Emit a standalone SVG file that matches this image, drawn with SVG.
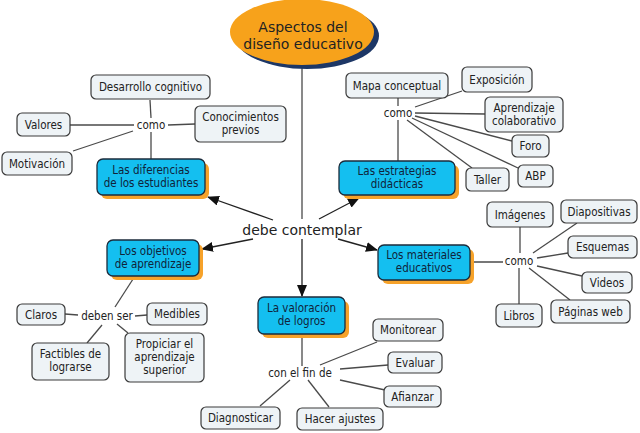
<svg xmlns="http://www.w3.org/2000/svg" width="640" height="433" viewBox="0 0 640 433">
<defs>
<marker id="ah" markerUnits="userSpaceOnUse" markerWidth="12" markerHeight="10" refX="11" refY="5" orient="auto">
<path d="M0,0 L12,5 L0,10 Z" fill="#111"/>
</marker>
<style>
.g{fill:#eef3f6;stroke:#3a3a3a;stroke-width:1.2}
.b{fill:#14bff0;stroke:#1b2b3b;stroke-width:1.3}
.sh{fill:#f6a22a}
.t{font-family:'DejaVu Sans Condensed','DejaVu Sans',sans-serif;font-size:11.5px;fill:#222;text-anchor:middle}
.bt{font-family:'DejaVu Sans Condensed','DejaVu Sans',sans-serif;font-size:11.5px;fill:#10233a;text-anchor:middle}
.big{font-family:'DejaVu Sans',sans-serif;font-size:14px;fill:#222;text-anchor:middle}
.ln{stroke:#4a4a4a;stroke-width:1.3;fill:none}
.ar{stroke:#222;stroke-width:1.3;fill:none;marker-end:url(#ah)}
</style>
</defs>
<rect width="640" height="433" fill="#ffffff"/>

<g id="connectors">
<line class="ln" x1="302" y1="65" x2="302" y2="219"/>
<line class="ar" x1="302" y1="239" x2="302" y2="296"/>
<line class="ar" x1="273" y1="220" x2="208" y2="197"/>
<line class="ar" x1="319" y1="219" x2="359" y2="198"/>
<line class="ar" x1="253" y1="239" x2="202" y2="249"/>
<line class="ar" x1="338" y1="239" x2="377" y2="250"/>

<line class="ln" x1="150" y1="100" x2="151" y2="118"/>
<line class="ln" x1="151" y1="132" x2="151" y2="159"/>
<line class="ln" x1="70" y1="125" x2="134" y2="125"/>
<line class="ln" x1="168" y1="125" x2="195" y2="124"/>
<line class="ln" x1="73" y1="151" x2="133" y2="131"/>

<line class="ln" x1="398" y1="98" x2="398" y2="106"/>
<line class="ln" x1="398" y1="120" x2="398" y2="161"/>
<line class="ln" x1="415" y1="107" x2="462" y2="91"/>
<line class="ln" x1="415" y1="113" x2="485" y2="114"/>
<line class="ln" x1="415" y1="116" x2="512" y2="141"/>
<line class="ln" x1="412" y1="118" x2="518" y2="168"/>
<line class="ln" x1="407" y1="120" x2="472" y2="168"/>

<line class="ln" x1="470" y1="262" x2="503" y2="262"/>
<line class="ln" x1="520" y1="227" x2="520" y2="253"/>
<line class="ln" x1="519" y1="268" x2="519" y2="304"/>
<line class="ln" x1="533" y1="253" x2="577" y2="223"/>
<line class="ln" x1="537" y1="258" x2="568" y2="253"/>
<line class="ln" x1="537" y1="266" x2="582" y2="276"/>
<line class="ln" x1="529" y1="268" x2="570" y2="300"/>

<line class="ln" x1="135" y1="276" x2="115" y2="307"/>
<line class="ln" x1="65" y1="314" x2="78" y2="315"/>
<line class="ln" x1="135" y1="316" x2="147" y2="315"/>
<line class="ln" x1="102" y1="325" x2="87" y2="343"/>
<line class="ln" x1="117" y1="324" x2="128" y2="333"/>

<line class="ln" x1="302" y1="334" x2="302" y2="366"/>
<line class="ln" x1="320" y1="365" x2="377" y2="342"/>
<line class="ln" x1="340" y1="369" x2="388" y2="365"/>
<line class="ln" x1="340" y1="380" x2="385" y2="390"/>
<line class="ln" x1="290" y1="380" x2="260" y2="406"/>
<line class="ln" x1="308" y1="380" x2="329" y2="407"/>
</g>

<g id="n-title">
<ellipse cx="307" cy="36" rx="72" ry="33" fill="#1d3766"/>
<ellipse cx="302" cy="32" rx="72" ry="33" fill="#f7a21b"/>
<text class="big" x="303" y="32">Aspectos del</text>
<text class="big" x="303" y="49">diseño educativo</text>
</g>

<g id="l-debe"><text class="big" x="302" y="235">debe contemplar</text></g>

<g id="n-diferencias">
<rect class="sh" x="101" y="163" width="108" height="36" rx="6"/>
<rect class="b" x="97" y="159" width="108" height="36" rx="6"/>
<text class="bt" x="151" y="174">Las diferencias</text>
<text class="bt" x="151" y="187">de los estudiantes</text>
</g>
<g id="n-estrategias">
<rect class="sh" x="343" y="165" width="116" height="34" rx="6"/>
<rect class="b" x="339" y="161" width="116" height="34" rx="6"/>
<text class="bt" x="397" y="175">Las estrategias</text>
<text class="bt" x="397" y="188">didácticas</text>
</g>
<g id="n-objetivos">
<rect class="sh" x="111" y="244" width="92" height="36" rx="6"/>
<rect class="b" x="107" y="240" width="92" height="36" rx="6"/>
<text class="bt" x="153" y="255">Los objetivos</text>
<text class="bt" x="153" y="268">de aprendizaje</text>
</g>
<g id="n-materiales">
<rect class="sh" x="382" y="249" width="92" height="35" rx="6"/>
<rect class="b" x="378" y="245" width="92" height="35" rx="6"/>
<text class="bt" x="424" y="259">Los materiales</text>
<text class="bt" x="424" y="272">educativos</text>
</g>
<g id="n-valoracion">
<rect class="sh" x="262" y="301" width="87" height="37" rx="6"/>
<rect class="b" x="258" y="297" width="87" height="37" rx="6"/>
<text class="bt" x="301.5" y="312">La valoración</text>
<text class="bt" x="301.5" y="325">de logros</text>
</g>

<g id="l-como1"><text class="t" x="151" y="129">como</text></g>
<g id="l-como2"><text class="t" x="398" y="117">como</text></g>
<g id="l-como3"><text class="t" x="519" y="265">como</text></g>
<g id="l-deben"><text class="t" x="107" y="320">deben ser</text></g>
<g id="l-confin"><text class="t" x="300" y="377">con el fin de</text></g>

<g id="n-desarrollo"><rect class="g" x="91" y="75" width="119" height="24" rx="5"/><text class="t" x="150.5" y="91">Desarrollo cognitivo</text></g>
<g id="n-valores"><rect class="g" x="17" y="113" width="53" height="23" rx="5"/><text class="t" x="43.5" y="128.5">Valores</text></g>
<g id="n-conocimientos"><rect class="g" x="195" y="106" width="91" height="36" rx="5"/><text class="t" x="240.5" y="121">Conocimientos</text><text class="t" x="240.5" y="134">previos</text></g>
<g id="n-motivacion"><rect class="g" x="2" y="152" width="70" height="23" rx="5"/><text class="t" x="37" y="167.5">Motivación</text></g>

<g id="n-mapa"><rect class="g" x="346" y="73" width="102" height="25" rx="5"/><text class="t" x="397" y="89.5">Mapa conceptual</text></g>
<g id="n-exposicion"><rect class="g" x="462" y="67" width="70" height="25" rx="5"/><text class="t" x="497" y="83.5">Exposición</text></g>
<g id="n-aprendizaje"><rect class="g" x="485" y="97" width="78" height="35" rx="5"/><text class="t" x="524" y="111.5">Aprendizaje</text><text class="t" x="524" y="124.5">colaborativo</text></g>
<g id="n-foro"><rect class="g" x="512" y="135" width="37" height="22" rx="5"/><text class="t" x="530.5" y="150">Foro</text></g>
<g id="n-abp"><rect class="g" x="518" y="165" width="35" height="22" rx="5"/><text class="t" x="535.5" y="180">ABP</text></g>
<g id="n-taller"><rect class="g" x="466" y="168" width="43" height="23" rx="5"/><text class="t" x="487.5" y="183.5">Taller</text></g>

<g id="n-imagenes"><rect class="g" x="487" y="202" width="66" height="25" rx="5"/><text class="t" x="520" y="218.5">Imágenes</text></g>
<g id="n-diapositivas"><rect class="g" x="561" y="200" width="76" height="23" rx="5"/><text class="t" x="599" y="215.5">Diapositivas</text></g>
<g id="n-esquemas"><rect class="g" x="568" y="236" width="69" height="22" rx="5"/><text class="t" x="602.5" y="251">Esquemas</text></g>
<g id="n-videos"><rect class="g" x="582" y="272" width="50" height="21" rx="5"/><text class="t" x="607" y="286.5">Videos</text></g>
<g id="n-paginas"><rect class="g" x="551" y="300" width="79" height="23" rx="5"/><text class="t" x="590.5" y="315.5">Páginas web</text></g>
<g id="n-libros"><rect class="g" x="496" y="304" width="46" height="23" rx="5"/><text class="t" x="519" y="319.5">Libros</text></g>

<g id="n-claros"><rect class="g" x="17" y="304" width="48" height="21" rx="5"/><text class="t" x="41" y="318.5">Claros</text></g>
<g id="n-medibles"><rect class="g" x="147" y="303" width="60" height="22" rx="5"/><text class="t" x="177" y="318">Medibles</text></g>
<g id="n-factibles"><rect class="g" x="32" y="343" width="77" height="37" rx="5"/><text class="t" x="70.5" y="358">Factibles de</text><text class="t" x="70.5" y="371">lograrse</text></g>
<g id="n-propiciar"><rect class="g" x="125" y="333" width="79" height="49" rx="5"/><text class="t" x="164.5" y="348">Propiciar el</text><text class="t" x="164.5" y="361">aprendizaje</text><text class="t" x="164.5" y="374">superior</text></g>

<g id="n-monitorear"><rect class="g" x="373" y="319" width="70" height="22" rx="5"/><text class="t" x="408" y="334">Monitorear</text></g>
<g id="n-evaluar"><rect class="g" x="388" y="352" width="54" height="21" rx="5"/><text class="t" x="415" y="366.5">Evaluar</text></g>
<g id="n-afianzar"><rect class="g" x="384" y="386" width="57" height="21" rx="5"/><text class="t" x="412.5" y="400.5">Afianzar</text></g>
<g id="n-diagnosticar"><rect class="g" x="201" y="407" width="79" height="22" rx="5"/><text class="t" x="240.5" y="422">Diagnosticar</text></g>
<g id="n-hacer"><rect class="g" x="297" y="408" width="86" height="22" rx="5"/><text class="t" x="340" y="423">Hacer ajustes</text></g>
</svg>
